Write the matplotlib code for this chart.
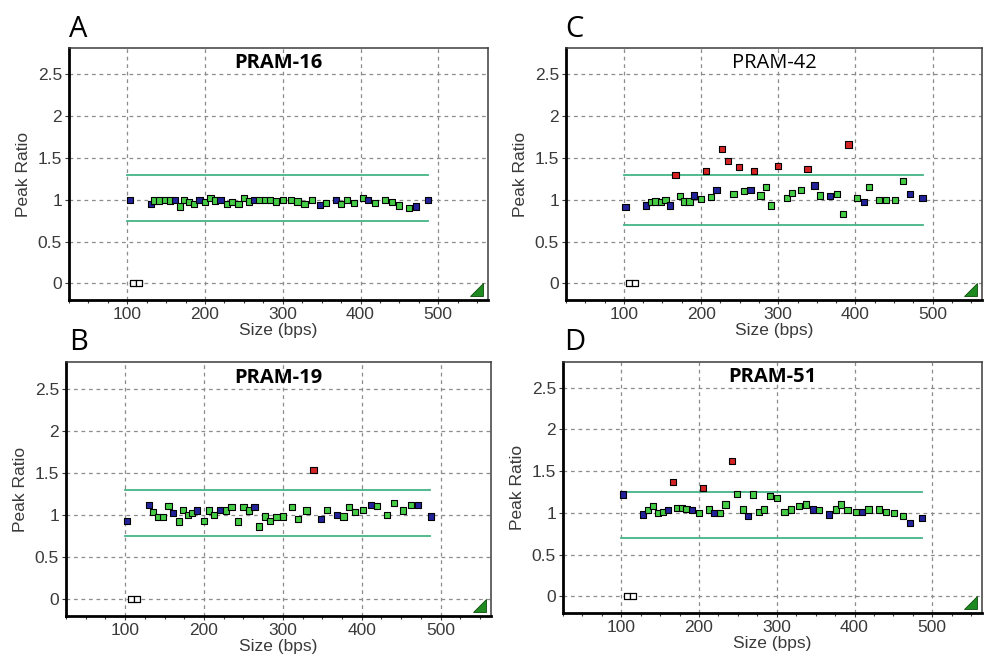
import matplotlib
matplotlib.use('Agg')
import matplotlib.pyplot as plt
from matplotlib.patches import Polygon
from matplotlib.ticker import MultipleLocator

# ---- data ----
# flags: g = in range, b = blue (sizing peak), r = out of range
a_size = [103, 130, 135, 141, 148, 155, 161, 168, 173, 179, 186, 193, 200, 207, 213, 220,
          228, 235, 243, 250, 257, 263, 270, 277, 284, 291, 300, 311, 319, 328, 338, 348,
          356, 368, 375, 383, 392, 403, 410, 419, 431, 440, 450, 462, 471, 487]
a_ratio = [1.00, 0.95, 0.99, 0.99, 1.00, 0.99, 1.00, 0.92, 1.00, 0.97, 0.95, 1.00, 0.97, 1.02, 0.99, 1.00,
           0.95, 0.97, 0.95, 1.02, 0.98, 1.00, 1.00, 1.00, 1.00, 0.98, 1.00, 1.00, 0.98, 0.95, 1.00, 0.94,
           0.96, 1.00, 0.95, 1.00, 0.96, 1.02, 1.00, 0.96, 1.00, 0.97, 0.93, 0.90, 0.92, 1.00]
a_flag = "bbggggbggggbgggbgggggbgggggggggbgbggggbgggggbb"

b_size = [102, 130, 135, 142, 148, 155, 161, 168, 173, 180, 185, 191, 200, 206, 213, 220,
          228, 235, 243, 250, 257, 264, 270, 277, 284, 292, 300, 312, 319, 330, 339, 348,
          356, 369, 377, 384, 392, 402, 412, 419, 432, 441, 452, 463, 471, 488]
b_ratio = [0.93, 1.12, 1.03, 0.97, 0.97, 1.10, 1.02, 0.92, 1.06, 1.00, 1.02, 1.05, 0.93, 1.05, 1.00, 1.06,
           1.05, 1.09, 0.92, 1.09, 1.05, 1.09, 0.86, 0.98, 0.93, 0.97, 0.98, 1.09, 0.95, 1.05, 1.53, 0.95,
           1.06, 1.00, 0.98, 1.09, 1.03, 1.06, 1.12, 1.10, 1.00, 1.14, 1.05, 1.12, 1.12, 0.98]
b_flag = "bbggggbggggbgggbgggggbggggggggrbgbggggbgggggbb"

c_size = [102, 129, 135, 141, 148, 154, 160, 167, 173, 178, 185, 191, 200, 206, 213, 220,
          227, 235, 242, 249, 256, 264, 269, 277, 284, 291, 300, 311, 318, 329, 338, 347,
          354, 367, 376, 384, 391, 402, 411, 418, 431, 440, 451, 462, 471, 487]
c_ratio = [0.91, 0.93, 0.97, 0.98, 0.97, 1.00, 0.93, 1.30, 1.04, 0.98, 0.98, 1.05, 1.01, 1.34, 1.03, 1.12,
           1.61, 1.46, 1.07, 1.39, 1.10, 1.12, 1.34, 1.05, 1.15, 0.93, 1.40, 1.02, 1.08, 1.12, 1.37, 1.17,
           1.05, 1.04, 1.07, 0.83, 1.66, 1.02, 0.97, 1.15, 1.00, 1.00, 1.00, 1.22, 1.07, 1.02]
c_flag = "bbggggbrgggbgrgbrrgrgbrgggrgggrbgbggrgbgggggbb"

d_size = [102, 128, 134, 141, 147, 154, 160, 167, 172, 178, 184, 191, 200, 205, 213, 220,
          227, 234, 242, 249, 257, 263, 269, 277, 284, 291, 300, 310, 318, 329, 338, 347,
          354, 367, 376, 383, 391, 402, 410, 418, 431, 440, 451, 462, 471, 487]
d_ratio = [1.22, 0.98, 1.03, 1.08, 1.00, 1.01, 1.03, 1.37, 1.06, 1.06, 1.05, 1.03, 1.00, 1.30, 1.04, 1.00,
           1.00, 1.10, 1.62, 1.23, 1.04, 0.96, 1.22, 1.01, 1.04, 1.20, 1.18, 1.01, 1.04, 1.08, 1.10, 1.04,
           1.03, 0.98, 1.04, 1.10, 1.03, 1.01, 1.01, 1.04, 1.04, 1.01, 1.00, 0.96, 0.88, 0.94]
d_flag = "bbggggbrgggbgrgbggrggbgggggggggbgbggggbgggggbb"

zero_size = [107, 115]          # the two empty peaks sitting at ratio 0
upper = {'A': 1.30, 'B': 1.30, 'C': 1.30, 'D': 1.25}
lower = {'A': 0.75, 'B': 0.75, 'C': 0.70, 'D': 0.70}
band_from, band_to = 100, 487

titles = {'A': 'PRAM-16', 'B': 'PRAM-19', 'C': 'PRAM-42', 'D': 'PRAM-51'}
panels = {'A': (a_size, a_ratio, a_flag), 'B': (b_size, b_ratio, b_flag),
          'C': (c_size, c_ratio, c_flag), 'D': (d_size, d_ratio, d_flag)}

# ---- styling ----
fill = {'g': '#45cc45', 'b': '#22229a', 'r': '#d42424'}
line_col = '#45b487'
txt_col = '#3a3a3a'
tick_font = 'Liberation Sans'
# axes boxes in figure fractions
boxes = {'A': [0.069, 0.552, 0.419, 0.376], 'C': [0.566, 0.552, 0.416, 0.376],
         'B': [0.066, 0.081, 0.425, 0.378], 'D': [0.563, 0.085, 0.419, 0.375]}
letter_pos = {'A': (0.069, 0.945), 'C': (0.565, 0.945), 'B': (0.069, 0.478), 'D': (0.564, 0.478)}

fig = plt.figure(figsize=(10, 6.7), dpi=100)

for key in ['A', 'C', 'B', 'D']:
    size, ratio, flag = panels[key]
    ax = fig.add_axes(boxes[key])
    ax.set_xlim(25, 564)
    ax.set_ylim(-0.2, 2.81)

    ax.set_xticks([100, 200, 300, 400, 500])
    ax.xaxis.set_minor_locator(MultipleLocator(25))
    ax.set_yticks([0, 0.5, 1, 1.5, 2, 2.5])
    ax.set_yticklabels(['0', '0.5', '1', '1.5', '2', '2.5'])
    ax.tick_params(axis='both', which='major', direction='out', length=3, width=0.8,
                   colors=txt_col, labelsize=12.5, pad=2)
    ax.tick_params(axis='x', which='minor', direction='out', length=2.5, width=0.8, colors=txt_col)
    for lab in ax.get_xticklabels() + ax.get_yticklabels():
        lab.set_family(tick_font)

    ax.grid(True, which='major', color='#8c8c8c', linestyle=(0, (3, 3)), linewidth=0.9)
    ax.set_axisbelow(True)

    for side in ['left', 'bottom']:
        ax.spines[side].set_linewidth(2.0)
        ax.spines[side].set_color('black')
    for side in ['top', 'right']:
        ax.spines[side].set_linewidth(1.1)
        ax.spines[side].set_color('#3c3c3c')

    # threshold band
    ax.plot([band_from, band_to], [upper[key]] * 2, color=line_col, lw=1.3, zorder=2)
    ax.plot([band_from, band_to], [lower[key]] * 2, color=line_col, lw=1.3, zorder=2)

    cols = [fill[f] for f in flag]
    ax.scatter(size, ratio, marker='s', s=20, c=cols, edgecolors='black', linewidths=0.8, zorder=3)
    ax.scatter(zero_size, [0, 0], marker='s', s=24, facecolors='white', edgecolors='black',
               linewidths=0.9, zorder=3)

    # little green corner marker
    ax.add_patch(Polygon([[0.957, 0.016], [0.988, 0.016], [0.988, 0.067]], closed=True,
                         transform=ax.transAxes, facecolor='#1f8a1f', edgecolor='#0d4d0d',
                         lw=0.6, zorder=4, clip_on=False))

    ax.text(0.5, 0.92, titles[key], transform=ax.transAxes, ha='center', va='baseline',
            fontsize=14.5, family='Open Sans',
            fontweight='normal' if key == 'C' else 'bold', color='black')

    ax.set_xlabel('Size (bps)', fontsize=12.5, family=tick_font, color=txt_col, labelpad=1)
    ax.set_ylabel('Peak Ratio', fontsize=12.5, family=tick_font, color=txt_col, labelpad=5)

    fig.text(letter_pos[key][0], letter_pos[key][1], key, fontsize=21, family='Open Sans',
             ha='left', va='baseline', color='black')

fig.savefig('out.png', dpi=100, facecolor='white')
